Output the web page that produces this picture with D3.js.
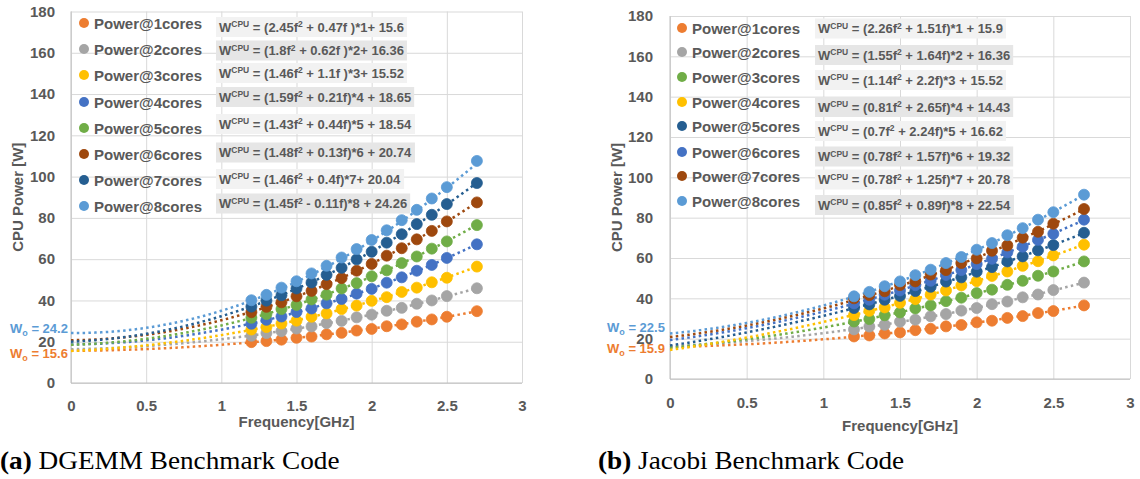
<!DOCTYPE html>
<html><head><meta charset="utf-8">
<script src="https://cdn.jsdelivr.net/npm/d3@7"></script>
<style>
body{margin:0;background:#fff}
svg{display:block}
text{font-family:"Liberation Sans",Arial,sans-serif;font-weight:bold;fill:#595959}
</style>
</head><body>
<svg id="c" width="1140" height="479"></svg>
<script>
// ---------- DATA ----------
const freq = [1.2,1.3,1.4,1.5,1.6,1.7,1.8,1.9,2.0,2.1,2.2,2.3,2.4,2.5,2.7];
const xTicks = [0,0.5,1,1.5,2,2.5,3];
const yTicks = [0,20,40,60,80,100,120,140,160,180];
const seriesNames = ["Power@1cores","Power@2cores","Power@3cores","Power@4cores","Power@5cores","Power@6cores","Power@7cores","Power@8cores"];
const cores = [1,2,3,4,5,6,7,8];

// (a) DGEMM measured power per core count
const dgemm1 = [19.8,20.3,21.0,21.9,22.5,23.6,24.3,25.4,26.2,27.5,28.4,29.7,30.8,32.1,34.8];
const dgemm2 = [22.9,24.2,25.1,26.4,27.4,29.0,30.1,31.8,33.1,35.0,36.4,38.4,40.0,42.1,45.9];
const dgemm3 = [25.9,27.1,28.8,30.2,32.1,33.7,35.8,37.5,39.8,41.6,44.1,46.2,48.8,51.0,56.4];
const dgemm4 = [28.7,30.6,32.2,34.4,36.1,38.6,40.7,43.3,45.6,48.6,51.2,54.4,57.2,60.6,67.2];
const dgemm5 = [31.6,33.4,35.8,37.8,40.5,42.8,45.8,48.4,51.7,54.6,58.1,61.3,65.1,68.6,76.5];
const dgemm6 = [34.3,36.9,39.1,42.0,44.6,47.9,50.8,54.4,57.7,61.7,65.3,69.6,73.7,78.3,87.5];
const dgemm7 = [37.0,39.9,42.5,45.8,48.7,52.4,55.8,59.9,63.6,68.0,72.1,77.0,81.5,86.7,96.9];
const dgemm8 = [40.1,42.7,46.2,49.3,53.1,56.8,60.8,64.9,69.3,74.0,78.9,83.9,89.4,94.9,107.6];
// trendline coefficients W = (a f^2 + b f)*n + c
const dgemmA = [2.45,1.8,1.46,1.59,1.43,1.48,1.36,1.45];
const dgemmB = [0.47,0.62,1.1,0.21,0.44,0.13,0.4,-0.11];
const dgemmC = [15.6,16.36,15.52,18.65,18.54,20.74,20.04,24.26];
const dgemmEq = ["= (2.45f^2 + 0.47f )*1+ 15.6","= (1.8f^2 + 0.62f )*2+ 16.36","= (1.46f^2 + 1.1f )*3+ 15.52","= (1.59f^2 + 0.21f)*4 + 18.65","= (1.43f^2 + 0.44f)*5 + 18.54","= (1.48f^2 + 0.13f)*6 + 20.74","= (1.46f^2 + 0.4f)*7+ 20.04","= (1.45f^2 - 0.11f)*8 + 24.26"];
const dgemmWo = ["24.2","15.6"];

// (b) Jacobi measured power per core count
const jacobi1 = [21.1,21.6,22.6,23.1,24.2,24.9,26.1,26.8,28.1,28.9,30.3,31.2,32.7,33.7,36.5];
const jacobi2 = [24.6,26.0,26.9,28.4,29.4,31.1,32.2,33.9,35.2,37.1,38.4,40.5,41.9,44.1,47.8];
const jacobi3 = [28.5,29.7,31.6,33.0,35.0,36.5,38.6,40.3,42.6,44.3,46.7,48.7,51.2,53.3,58.3];
const jacobi4 = [31.7,33.8,35.5,37.8,39.6,41.9,43.9,46.4,48.5,51.1,53.3,56.1,58.4,61.3,66.6];
const jacobi5 = [35.2,37.0,39.3,41.2,43.6,45.7,48.3,50.4,53.2,55.5,58.3,60.8,63.8,66.4,72.5];
const jacobi6 = [37.5,39.3,41.8,43.9,46.5,48.7,51.6,54.0,57.0,59.6,62.8,65.6,69.0,72.0,79.0];
const jacobi7 = [40.0,41.6,43.5,46.6,48.4,51.8,54.0,57.5,59.8,63.6,66.2,70.1,73.0,77.0,84.3];
const jacobi8 = [41.0,43.2,46.0,48.4,51.5,54.2,57.5,60.5,64.1,67.4,71.3,74.8,79.0,82.7,91.4];
const jacobiA = [2.26,1.55,1.14,0.81,0.7,0.78,0.78,0.85];
const jacobiB = [1.51,1.64,2.2,2.65,2.24,1.57,1.25,0.89];
const jacobiC = [15.9,16.36,15.52,14.43,16.62,19.32,20.78,22.54];
const jacobiEq = ["= (2.26f^2 + 1.51f)*1 + 15.9","= (1.55f^2 + 1.64f)*2 + 16.36","= (1.14f^2 + 2.2f)*3 + 15.52","= (0.81f^2 + 2.65f)*4 + 14.43","= (0.7f^2 + 2.24f)*5 + 16.62","= (0.78f^2 + 1.57f)*6 + 19.32","= (0.78f^2 + 1.25f)*7 + 20.78","= (0.85f^2 + 0.89f)*8 + 22.54"];
const jacobiWo = ["22.5","15.9"];

const captions = [["(a)"," DGEMM Benchmark Code"],["(b)"," Jacobi Benchmark Code"]];

// ---------- STYLE ----------
const C = {orange:"#ED7D31",grey:"#A5A5A5",yellow:"#FFC000",blue:"#4472C4",green:"#70AD47",brown:"#9E480E",navy:"#255E91",lblue:"#5B9BD5"};
const dgemmColors = [C.orange,C.grey,C.yellow,C.blue,C.green,C.brown,C.navy,C.lblue];
const jacobiColors = [C.orange,C.grey,C.green,C.yellow,C.navy,C.blue,C.brown,C.lblue];

const svg = d3.select("#c");

function panel(o){
  const g = svg.append("g");
  const x = d3.scaleLinear().domain([0,3]).range([o.left,o.right]);
  const y = d3.scaleLinear().domain([0,180]).range([o.bottom,o.top]);
  // gridlines
  g.append("g").attr("transform",`translate(0,${o.bottom})`)
    .call(d3.axisBottom(x).tickValues(xTicks).tickSize(-(o.bottom-o.top)).tickFormat(""))
    .call(s=>{s.select(".domain").remove();s.selectAll("line").attr("stroke","#D9D9D9").attr("stroke-width",1);});
  g.append("g").attr("transform",`translate(${o.left},0)`)
    .call(d3.axisLeft(y).tickValues(yTicks).tickSize(-(o.right-o.left)).tickFormat(""))
    .call(s=>{s.select(".domain").remove();s.selectAll("line").attr("stroke","#D9D9D9").attr("stroke-width",1);});
  // axis lines
  g.append("line").attr("x1",o.left).attr("x2",o.right).attr("y1",o.bottom).attr("y2",o.bottom).attr("stroke","#BFBFBF");
  g.append("line").attr("x1",o.left).attr("x2",o.left).attr("y1",o.top).attr("y2",o.bottom).attr("stroke","#BFBFBF");
  // tick labels
  g.append("g").attr("transform",`translate(0,${o.bottom})`)
    .call(d3.axisBottom(x).tickValues(xTicks).tickSize(0).tickPadding(o.xPad).tickFormat(d3.format("")))
    .call(s=>{s.select(".domain").remove();s.selectAll("text").attr("font-size",15).attr("font-family",null).attr("fill","#595959");});
  g.append("g").attr("transform",`translate(${o.left},0)`)
    .call(d3.axisLeft(y).tickValues(yTicks).tickSize(0).tickPadding(o.yPad))
    .call(s=>{s.select(".domain").remove();s.selectAll("text").attr("font-size",15).attr("font-family",null).attr("fill","#595959");});
  // axis titles
  g.append("text").attr("x",(o.left+o.right)/2).attr("y",o.xTitleY).attr("text-anchor","middle").attr("font-size",15).text("Frequency[GHz]");
  g.append("text").attr("transform",`translate(${o.yTitleX},${(o.top+o.bottom)/2}) rotate(-90)`).attr("text-anchor","middle").attr("font-size",15).text("CPU Power [W]");

  // trendlines
  const fs = d3.range(0,2.7001,0.02);
  o.series.forEach((vals,i)=>{
    const line = d3.line().x(f=>x(f)).y(f=>y((o.A[i]*f*f+o.B[i]*f)*cores[i]+o.Cc[i]));
    g.append("path").attr("d",line(fs)).attr("fill","none").attr("stroke",o.colors[i])
      .attr("stroke-width",2.5).attr("stroke-dasharray","2.5,3.3");
  });
  // markers
  o.series.forEach((vals,i)=>{
    g.append("g").selectAll("circle").data(vals).join("circle")
      .attr("cx",(d,j)=>x(freq[j])).attr("cy",d=>y(d)).attr("r",5.5)
      .attr("fill",o.colors[i]).attr("stroke",o.colors[i]).attr("stroke-width",0.8);
  });
  // legend
  seriesNames.forEach((nm,i)=>{
    const yy = o.legY[i];
    g.append("circle").attr("cx",o.legX).attr("cy",yy).attr("r",5).attr("fill",o.colors[i]);
    g.append("text").attr("x",o.legX+10).attr("y",yy+5.5).attr("font-size",15).text(nm);
  });
  // equation labels
  o.eqs.forEach((eq,i)=>{
    const yy = o.eqY[i];
    const box = g.append("rect").attr("fill", i%2===0 ? "#F2F2F2" : "#E6E6E6");
    const t = g.append("text").attr("x",o.eqX).attr("y",yy+4.5).attr("font-size",13);
    t.append("tspan").text("W");
    t.append("tspan").attr("font-size",8.5).attr("dy",-4.5).text("CPU");
    const parts = eq.split("^2");
    t.append("tspan").attr("dy",4.5).text(" "+parts[0]);
    t.append("tspan").attr("font-size",8.5).attr("dy",-4.5).text("2");
    t.append("tspan").attr("dy",4.5).text(parts[1]);
    const bb = t.node().getBBox();
    box.attr("x",bb.x-3).attr("y",yy-10).attr("width",bb.width+6).attr("height",20);
  });
  // W0 labels
  o.wo.forEach((w,k)=>{
    const t = g.append("text").attr("x",o.woX).attr("y",o.woY[k]).attr("font-size",13).style("fill",k===0?C.lblue:C.orange);
    t.append("tspan").text("W");
    t.append("tspan").attr("font-size",9).attr("dy",3).text("o");
    t.append("tspan").attr("dy",-3).text(" = "+w);
  });
  // caption
  const cap = svg.append("text").attr("transform",`translate(${o.capX},469) scale(1.09,1)`).attr("font-size",25)
    .style("font-family","'Liberation Serif','Times New Roman',serif").style("font-weight","normal").style("fill","#000");
  cap.append("tspan").style("font-weight","bold").text(o.cap[0]);
  cap.append("tspan").text(o.cap[1]);
}

panel({left:71,right:522,top:11.5,bottom:383,xPad:17,yPad:16,xTitleY:427,yTitleX:23,
  series:[dgemm1,dgemm2,dgemm3,dgemm4,dgemm5,dgemm6,dgemm7,dgemm8],colors:dgemmColors,
  A:dgemmA,B:dgemmB,Cc:dgemmC,eqs:dgemmEq,
  legX:84,legY:[23,49,75,102,128,154,180,206],
  eqX:219,eqY:[27,50.5,73,97,124,152.5,179,203.5],
  wo:dgemmWo,woX:10,woY:[333,358],capX:0,cap:captions[0]});

panel({left:670,right:1130,top:16,bottom:379,xPad:18,yPad:17,xTitleY:431,yTitleX:622,
  series:[jacobi1,jacobi2,jacobi3,jacobi4,jacobi5,jacobi6,jacobi7,jacobi8],colors:jacobiColors,
  A:jacobiA,B:jacobiB,Cc:jacobiC,eqs:jacobiEq,
  legX:682,legY:[28,52,77,102,126,152,176,201],
  eqX:818,eqY:[28.5,55,80,107,131,156.5,179.5,205],
  wo:jacobiWo,woX:607,woY:[332,353],capX:598,cap:captions[1]});
</script>
</body></html>
